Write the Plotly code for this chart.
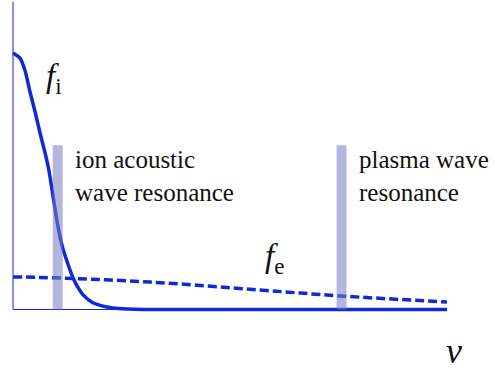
import plotly.graph_objects as go

# ion distribution f_i
v_ion = [0, 0.16, 0.28, 0.39, 0.51, 0.62, 0.74, 0.83, 0.97, 1.04, 1.13, 1.24,
         1.38, 1.5, 1.61, 1.84, 2.1, 2.3, 2.63, 3.0, 10.0]
f_ion = [1.0, 0.98, 0.93, 0.85, 0.77, 0.69, 0.61, 0.54, 0.39, 0.32, 0.25, 0.19,
         0.125, 0.085, 0.058, 0.026, 0.012, 0.006, 0.002, 0.0, 0.0]

# electron distribution f_e
v_el = [0, 0.62, 3.16, 5.69, 7.53, 10.0]
f_el = [0.127, 0.125, 0.107, 0.076, 0.053, 0.029]

# resonance bands
res_v = [1.03, 7.57]
res_height = 0.64
res_labels = ["ion acoustic<br>wave resonance", "plasma wave<br>resonance"]

blue = "#1029d8"
serif = "Liberation Serif"

fig = go.Figure()
fig.add_trace(go.Scatter(x=v_el, y=f_el, mode="lines", line_shape="spline",
                         line=dict(color=blue, width=3.5, dash="9px,4px")))
fig.add_trace(go.Scatter(x=v_ion, y=f_ion, mode="lines", line_shape="spline",
                         line=dict(color=blue, width=3.5, smoothing=0.6)))

# axes drawn as plain lines
fig.add_shape(type="line", x0=0, x1=10, y0=0, y1=0, line=dict(color=blue, width=1), layer="below")
fig.add_shape(type="line", x0=0, x1=0, y0=0, y1=1.2, line=dict(color=blue, width=1), layer="below")

for v, lab in zip(res_v, res_labels):
    fig.add_shape(type="rect", x0=v - 0.115, x1=v + 0.115, y0=0, y1=res_height,
                  fillcolor="rgba(117,124,193,0.55)", line_width=0, layer="above")
    fig.add_annotation(x=v + 0.35, y=res_height + 0.005, text=lab, showarrow=False,
                       xanchor="left", yanchor="top", align="left",
                       font=dict(family=serif, size=25))

fig.add_annotation(x=0.71, y=0.9, text="<i>f</i><sub>i</sub>", showarrow=False,
                   xanchor="left", yanchor="middle", font=dict(family=serif, size=33))
fig.add_annotation(x=5.76, y=0.2, text="<i>f</i><sub>e</sub>", showarrow=False,
                   xanchor="left", yanchor="middle", font=dict(family=serif, size=33))
fig.add_annotation(x=9.93, y=-0.162, text="<i>v</i>", showarrow=False,
                   xanchor="left", yanchor="middle", font=dict(family=serif, size=36))

fig.update_layout(
    template="none",
    font=dict(family=serif, color="#111111"),
    width=495, height=372,
    margin=dict(l=0, r=0, t=0, b=0),
    paper_bgcolor="white", plot_bgcolor="white",
    showlegend=False,
    xaxis=dict(range=[-0.2995, 11.106], visible=False, fixedrange=True),
    yaxis=dict(range=[-0.2437, 1.2066], visible=False, fixedrange=True),
)

fig.write_html("out.html", config={"displayModeBar": False},
               post_script="document.body.style.margin='0';")
